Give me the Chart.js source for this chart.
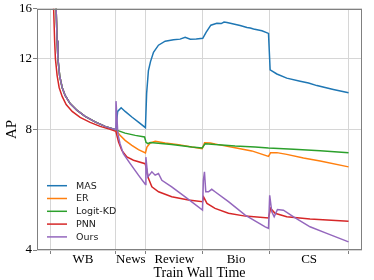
<!DOCTYPE html>
<html>
<head>
<meta charset="utf-8">
<title>AP over train wall time</title>
<script src="https://cdn.jsdelivr.net/npm/chart.js"></script>
<style>
    html, body { margin: 0; padding: 0; background: #fff; }
    #wrap { width: 374px; height: 280px; }
</style>
</head>
<body>
<div id="wrap"><canvas id="apChart"></canvas></div>
<script>
// task domains, in training order
const domains = ['WB', 'News', 'Review', 'Bio', 'CS'];
// wall time where each domain starts / ends (arbitrary units)
const bounds = [0, 22, 32, 51.1, 73.4, 100];
const yTicks = [4, 8, 12, 16];

// first domain (WB), shared by MAS / ER / Logit-KD / Ours
const wbX = [1.67, 2.0, 2.34, 2.61, 3.18, 4.02, 5.02, 6.7, 9.04, 11.72, 15.07, 18.4, 22];
const wbY = [21, 16, 13.32, 12.0, 10.9, 10.18, 9.72, 9.28, 8.92, 8.62, 8.35, 8.14, 7.98];

const masX = [22.6, 23.77, 25.1, 27.35, 29.56, 31.9, 32.3, 32.9, 33.6, 34.6, 36.26, 38.5, 41.3, 43.5, 45.2, 46.9, 48.9, 51.1,
    52.2, 53.8, 55.8, 57.3, 58.2, 59.2, 61.4, 62.5, 63.6, 65.9, 67, 68.1, 70.9, 73.1,
    73.65, 75.9, 79.2, 83.7, 86.5, 89.3, 94.8, 99.9];
const masY = [8.87, 9.06, 8.87, 8.59, 8.34, 8.08, 9.83, 11.22, 11.81, 12.46, 12.98, 13.28, 13.4, 13.44, 13.59, 13.44, 13.45, 13.5,
    13.97, 14.56, 14.72, 14.7, 14.83, 14.78, 14.66, 14.6, 14.54, 14.37, 14.33, 14.24, 14.1, 13.89,
    11.26, 11.0, 10.74, 10.55, 10.44, 10.29, 10.06, 9.87];

const erX = [23.4, 25.1, 27.35, 29.56, 31.9, 32.4, 33.5, 35.2, 38.5, 43, 47.4, 50.9,
    51.7, 53.6, 56.3, 61.9, 67.5, 73.1, 73.8, 75.9, 79.2, 84.8, 90.4, 99.9];
const erY = [7.73, 7.51, 7.30, 7.12, 6.99, 7.23, 7.40, 7.47, 7.40, 7.33, 7.23, 7.16,
    7.41, 7.40, 7.33, 7.20, 7.07, 6.85, 7.00, 7.00, 6.93, 6.79, 6.67, 6.45];

const kdX = [25.1, 28.5, 31.6, 32.1, 32.7, 33.5, 40.7, 47.4, 50.9, 51.9, 55.2, 61.9, 68.6, 73.1, 81.5, 90.4, 99.9];
const kdY = [7.83, 7.73, 7.66, 7.43, 7.37, 7.42, 7.33, 7.23, 7.19, 7.37, 7.33, 7.27, 7.23, 7.19, 7.14, 7.08, 7.00];

// PNN has its own WB curve (slightly faster)
const pnnX = [1.0, 1.17, 1.5, 1.77, 2.34, 3.01, 4.02, 5.36, 7.37, 10.04, 13.39, 16.74, 20.09, 22,
    22.9, 24, 25.7, 27.9, 31.8, 32.2, 32.9, 34.05, 36.3, 40.7, 46.3, 51,
    51.4, 52.5, 55.2, 59.7, 65.3, 73.1, 73.8, 75.3, 79.2, 87, 99.9];
const pnnY = [20, 16, 13.32, 12.0, 10.9, 10.18, 9.67, 9.23, 8.87, 8.57, 8.33, 8.14, 8.0, 7.91,
    7.44, 7.09, 6.83, 6.70, 6.57, 6.40, 6.04, 5.75, 5.59, 5.43, 5.33, 5.28,
    5.42, 5.23, 5.08, 4.94, 4.86, 4.81, 5.08, 4.94, 4.84, 4.78, 4.72];

const oursX = [22.05, 22.66, 23.4, 24.5, 26.8, 29.56, 31.9, 32.05, 32.7, 34.05, 35.15, 36.26, 37.4, 40.7, 45.2, 51.0,
    51.3, 51.66, 52.1, 53, 54.1, 55.2, 59.7, 65.3, 72, 73.1,
    73.5, 74.2, 75, 76.1, 78.1, 81.5, 87, 92.6, 99.9];
const oursY = [9.41, 7.81, 7.37, 6.96, 6.57, 6.15, 5.83, 6.82, 6.09, 6.27, 6.15, 6.21, 5.97, 5.75, 5.43, 5.03,
    5.97, 6.27, 5.59, 5.59, 5.67, 5.59, 5.28, 4.89, 4.57, 4.53,
    5.48, 4.98, 4.84, 5.05, 5.03, 4.84, 4.57, 4.40, 4.19];

function pts(xs, ys) {
    return xs.map((x, i) => ({x: x, y: ys[i]}));
}

const series = [
    {label: 'MAS', color: '#1f77b4', data: pts(wbX.concat(masX), wbY.concat(masY))},
    {label: 'ER', color: '#ff7f0e', data: pts(wbX.concat(erX), wbY.concat(erY))},
    {label: 'Logit-KD', color: '#2ca02c', data: pts(wbX.concat(kdX), wbY.concat(kdY))},
    {label: 'PNN', color: '#d62728', data: pts(pnnX, pnnY)},
    {label: 'Ours', color: '#9467bd', data: pts(wbX.concat(oursX), wbY.concat(oursY))}
];

// x ticks: domain boundaries (grid lines) + midpoints (labels)
const mids = domains.map((d, i) => (bounds[i] + bounds[i + 1]) / 2);
const xTicks = bounds.concat(mids).sort((a, b) => a - b);
const isBound = v => bounds.some(b => Math.abs(b - v) < 1e-6);
const labelOf = v => {
    const i = mids.findIndex(m => Math.abs(m - v) < 1e-6);
    return i >= 0 ? domains[i] : '';
};

const gridCol = '#d6d6d6';
const spineCol = '#808080';
const serif = '"Liberation Serif", "DejaVu Serif", serif';

const frame = {
    id: 'frame',
    afterDatasetsDraw(chart) {
        const {ctx, chartArea: a} = chart;
        ctx.save();
        ctx.strokeStyle = spineCol;
        ctx.lineWidth = 1;
        ctx.strokeRect(Math.round(a.left) + 0.5, Math.round(a.top) + 0.5,
            Math.round(a.right - a.left) - 1, Math.round(a.bottom - a.top) - 1);
        ctx.restore();
    }
};

const legendBox = {
    id: 'legendBox',
    afterDatasetsDraw(chart) {
        const ctx = chart.ctx;
        ctx.save();
        ctx.font = '9.5px "DejaVu Sans"';
        ctx.textBaseline = 'middle';
        ctx.fillStyle = '#222';
        chart.data.datasets.forEach((ds, i) => {
            const y = 185.7 + i * 12.8;
            ctx.strokeStyle = ds.borderColor;
            ctx.lineWidth = 1.5;
            ctx.beginPath();
            ctx.moveTo(47, y);
            ctx.lineTo(67, y);
            ctx.stroke();
            ctx.fillText(ds.label, 76, y + 0.5);
        });
        ctx.restore();
    }
};

new Chart(document.getElementById('apChart'), {
    type: 'line',
    data: {
        // later series drawn on top, like the original
        datasets: series.map((s, i) => ({
            label: s.label,
            data: s.data,
            order: series.length - i,
            borderColor: s.color,
            backgroundColor: s.color,
            borderWidth: 1.5,
            pointRadius: 0,
            tension: 0,
            fill: false
        }))
    },
    options: {
        responsive: true,
        maintainAspectRatio: false,
        animation: false,
        devicePixelRatio: 1,
        layout: {padding: {top: 8, right: 12, left: 0, bottom: 0}},
        plugins: {legend: {display: false}, tooltip: {enabled: false}},
        scales: {
            x: {
                type: 'linear',
                min: -4.4,
                max: 104.4,
                afterBuildTicks: s => { s.ticks = xTicks.map(v => ({value: v})); },
                afterFit: s => { s.height = 30; },
                border: {display: false},
                grid: {
                    color: c => isBound(c.tick.value) ? gridCol : 'rgba(0,0,0,0)',
                    tickColor: c => isBound(c.tick.value) ? spineCol : 'rgba(0,0,0,0)',
                    tickLength: 4,
                    lineWidth: 1
                },
                ticks: {
                    autoSkip: false,
                    maxRotation: 0,
                    minRotation: 0,
                    padding: -2,
                    color: '#000',
                    font: {family: serif, size: 13},
                    callback: v => labelOf(v)
                },
                title: {
                    display: true,
                    text: 'Train Wall Time',
                    color: '#000',
                    padding: 0,
                    font: {family: serif, size: 14, lineHeight: 1}
                }
            },
            y: {
                type: 'logarithmic',
                min: 4,
                max: 16,
                afterBuildTicks: s => { s.ticks = yTicks.map(v => ({value: v})); },
                afterFit: s => { s.width = 37; },
                border: {display: false},
                grid: {color: gridCol, tickColor: spineCol, tickLength: 4, lineWidth: 1},
                ticks: {
                    autoSkip: false,
                    padding: 1,
                    color: '#000',
                    font: {family: serif, size: 13},
                    callback: v => String(v)
                },
                title: {
                    display: true,
                    text: 'AP',
                    color: '#000',
                    padding: {top: 3, bottom: 0},
                    font: {family: serif, size: 15}
                }
            }
        }
    },
    plugins: [frame, legendBox]
});
</script>
</body>
</html>
